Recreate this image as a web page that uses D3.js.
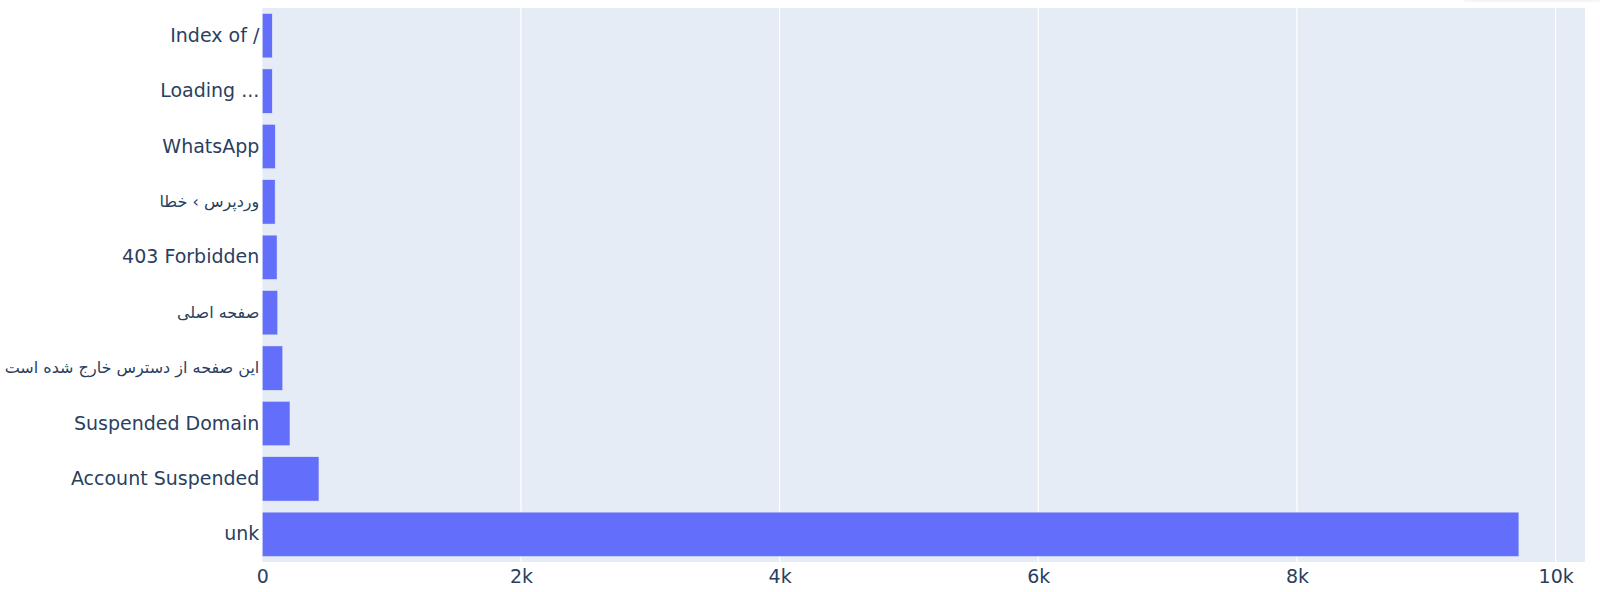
<!DOCTYPE html>
<html lang="en">
<head>
  <meta charset="UTF-8">
  <title>Page titles</title>
  <script src="https://d3js.org/d3.v7.min.js"></script>
  <style>
    body { margin: 0; background: white; font-family: Verdana, "DejaVu Sans", sans-serif; }
    svg { display: block; }
    .modebar-shadow {
      position: absolute;
      left: 1464px;
      top: -10px;
      width: 136px;
      height: 10px;
      background: white;
      box-shadow: 0 1px 3px rgba(0,0,0,0.08);
    }
  </style>
</head>
<body>
  <div class="modebar-shadow"></div>
  <svg width="1600" height="592"></svg>
  <script>
    // page titles, top to bottom
    const titles = [
      "Index of /",
      "Loading ...",
      "WhatsApp",
      "وردپرس › خطا",
      "403 Forbidden",
      "صفحه اصلی",
      "این صفحه از دسترس خارج شده است",
      "Suspended Domain",
      "Account Suspended",
      "unk"
    ];
    const counts = [77, 77, 100, 99, 114, 119, 158, 214, 438, 9716];
    const xTicks = [0, 2000, 4000, 6000, 8000, 10000];
    const xTickLabels = ["0", "2k", "4k", "6k", "8k", "10k"];

    const data = titles.map((t, i) => ({title: t, count: counts[i]}));

    const svg = d3.select("svg"),
          margin = {top: 8, right: 15, bottom: 30, left: 262.3},
          width = +svg.attr("width") - margin.left - margin.right,
          height = +svg.attr("height") - margin.top - margin.bottom;

    const g = svg.append("g").attr("transform", `translate(${margin.left},${margin.top})`);

    const x = d3.scaleLinear()
      .domain([0, d3.max(counts) * 1.0526])
      .range([0, width]);

    const y = d3.scaleBand()
      .domain(titles)
      .range([0, height])
      .paddingInner(0.2)
      .paddingOuter(0.1);

    g.append("rect")
      .attr("width", width)
      .attr("height", height)
      .attr("fill", "#E5ECF6");

    // gridlines
    g.selectAll(".grid")
      .data(xTicks.filter(d => d > 0))
      .enter()
      .append("line")
      .attr("x1", d => x(d))
      .attr("x2", d => x(d))
      .attr("y1", 0)
      .attr("y2", height)
      .attr("stroke", "white")
      .attr("stroke-width", 1.2);

    g.selectAll(".bar")
      .data(data)
      .enter()
      .append("rect")
      .attr("class", "bar")
      .attr("x", 0)
      .attr("y", d => y(d.title))
      .attr("width", d => x(d.count))
      .attr("height", y.bandwidth())
      .attr("fill", "#636efa")
      .attr("stroke", "#E5ECF6")
      .attr("stroke-width", 0.5);

    const xAxis = g.append("g")
      .attr("transform", `translate(0,${height})`)
      .call(d3.axisBottom(x).tickValues(xTicks).tickSize(0).tickPadding(8)
        .tickFormat((d, i) => xTickLabels[i]));
    xAxis.select(".domain").remove();
    xAxis.selectAll("text")
      .attr("dy", "0.71em")
      .style("font-family", "Verdana, 'DejaVu Sans', sans-serif")
      .style("font-size", "19px")
      .attr("fill", "#2a3f5f");

    const yAxis = g.append("g")
      .call(d3.axisLeft(y).tickSize(0).tickPadding(3));
    yAxis.select(".domain").remove();
    // persian titles come out wider in the fallback font, so set them smaller
    yAxis.selectAll("text")
      .style("font-family", "Verdana, 'DejaVu Sans', sans-serif")
      .style("font-size", d => /[\u0600-\u06FF]/.test(d) ? "16px" : "19px")
      .attr("fill", "#2a3f5f");
  </script>
</body>
</html>
